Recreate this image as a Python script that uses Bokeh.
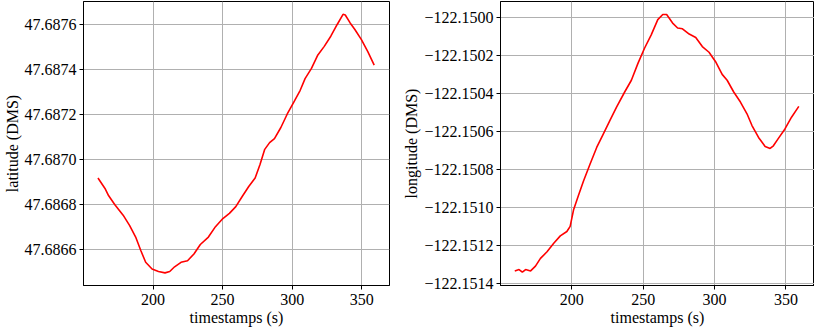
from bokeh.plotting import figure
from bokeh.layouts import row
from bokeh.models import FixedTicker, Range1d
from bokeh.embed import file_html
from bokeh.resources import INLINE

# ---- data ----
lat_t = [160.4, 165.7, 168.1, 172.7, 178.5, 183.1, 187.7, 191.2, 194.7, 199.3,
         203.9, 208.6, 212.0, 215.5, 220.1, 224.8, 229.4, 234.0, 239.8, 244.4,
         250.2, 254.9, 259.5, 264.1, 268.8, 273.4, 276.9, 280.3, 283.8, 287.3,
         291.9, 296.5, 301.2, 305.8, 309.3, 313.9, 318.5, 323.1, 327.8, 332.4,
         336.6, 338.2, 341.7, 345.1, 349.8, 354.4, 359.0]
lat_v = [47.686919, 47.686870, 47.686840, 47.686799, 47.686754, 47.686709,
         47.686654, 47.686597, 47.686545, 47.686515, 47.686504, 47.686498,
         47.686504, 47.686525, 47.686545, 47.686552, 47.686582, 47.686624,
         47.686657, 47.686699, 47.686739, 47.686762, 47.686792, 47.686837,
         47.686881, 47.686919, 47.686979, 47.687046, 47.687076, 47.687094,
         47.687143, 47.687203, 47.687256, 47.687308, 47.687360, 47.687405,
         47.687465, 47.687503, 47.687548, 47.687600, 47.687645, 47.687642,
         47.687607, 47.687578, 47.687533, 47.687480, 47.687420]

lon_t = [160.0, 163.0, 165.3, 167.6, 171.1, 174.5, 178.0, 182.6, 187.3, 191.9,
         196.5, 198.8, 201.2, 204.6, 208.1, 212.7, 217.4, 222.0, 226.6, 231.3,
         237.0, 241.7, 246.3, 250.9, 255.6, 260.2, 263.7, 266.4, 270.6, 274.1,
         277.5, 282.2, 286.8, 291.4, 296.1, 300.7, 305.3, 308.8, 313.4, 318.1,
         322.7, 326.2, 330.8, 335.4, 338.9, 341.2, 344.7, 349.3, 353.9, 359.0]
lon_v = [-122.151336, -122.151329, -122.151343, -122.151329, -122.151336,
         -122.151311, -122.151270, -122.151235, -122.151190, -122.151151,
         -122.151128, -122.151101, -122.151013, -122.150938, -122.150862,
         -122.150773, -122.150684, -122.150613, -122.150542, -122.150471,
         -122.150391, -122.150329, -122.150240, -122.150160, -122.150089,
         -122.150009, -122.149982, -122.149982, -122.150027, -122.150053,
         -122.150057, -122.150085, -122.150103, -122.150151, -122.150181,
         -122.150231, -122.150298, -122.150329, -122.150391, -122.150444,
         -122.150506, -122.150568, -122.150631, -122.150679, -122.150689,
         -122.150675, -122.150636, -122.150586, -122.150524, -122.150467]

x_ticks = [200, 250, 300, 350]
lat_ticks = [47.6866, 47.6868, 47.6870, 47.6872, 47.6874, 47.6876]
lat_labels = ["47.6866", "47.6868", "47.6870", "47.6872", "47.6874", "47.6876"]
lon_ticks = [-122.1514, -122.1512, -122.1510, -122.1508, -122.1506,
             -122.1504, -122.1502, -122.1500]
lon_labels = ["\u2212122.1514", "\u2212122.1512", "\u2212122.1510", "\u2212122.1508",
              "\u2212122.1506", "\u2212122.1504", "\u2212122.1502", "\u2212122.1500"]

FONT = "Liberation Serif"


def style_axis(ax):
    ax.axis_line_color = "black"
    ax.major_tick_line_color = "black"
    ax.major_tick_out = 4
    ax.major_tick_in = 0
    ax.minor_tick_line_color = None
    ax.major_label_text_font = FONT
    ax.major_label_text_font_size = "16px"
    ax.major_label_text_font_style = "normal"
    ax.major_label_text_color = "black"
    ax.axis_label_text_font = FONT
    ax.axis_label_text_font_size = "16px"
    ax.axis_label_text_font_style = "normal"
    ax.axis_label_text_color = "black"
    ax.axis_label_standoff = 1


def make(t, v, yr, yticks, ylabels, ylab, width, bl, br):
    p = figure(width=width, height=330, output_backend="svg", toolbar_location=None,
               x_range=Range1d(150, 370), y_range=Range1d(*yr),
               min_border_left=bl, min_border_right=br, min_border_top=1,
               min_border_bottom=45)
    p.line(t, v, line_color="red", line_width=1.6)
    p.outline_line_color = "black"
    p.outline_line_width = 1
    p.background_fill_color = "white"
    p.border_fill_color = "white"
    for g in (p.xgrid, p.ygrid):
        g.grid_line_color = "#b0b0b0"
        g.grid_line_width = 1
    p.xaxis.ticker = FixedTicker(ticks=x_ticks)
    p.yaxis.ticker = FixedTicker(ticks=yticks)
    p.yaxis.major_label_overrides = {k: l for k, l in zip(yticks, ylabels)}
    p.xaxis.axis_label = "timestamps (s)"
    p.yaxis.axis_label = ylab
    style_axis(p.xaxis[0])
    style_axis(p.yaxis[0])
    p.xaxis[0].major_label_standoff = 4
    p.yaxis[0].major_label_standoff = 3
    return p


p1 = make(lat_t, lat_v, (47.686442, 47.687702), lat_ticks, lat_labels,
          "latitude (DMS)", 395, 75, 6)
p2 = make(lon_t, lon_v, (-122.151413, -122.149913), lon_ticks, lon_labels,
          "longitude (DMS)", 419, 105, 0)

layout = row(p1, p2)
open("out.html", "w").write(file_html(layout, INLINE))
